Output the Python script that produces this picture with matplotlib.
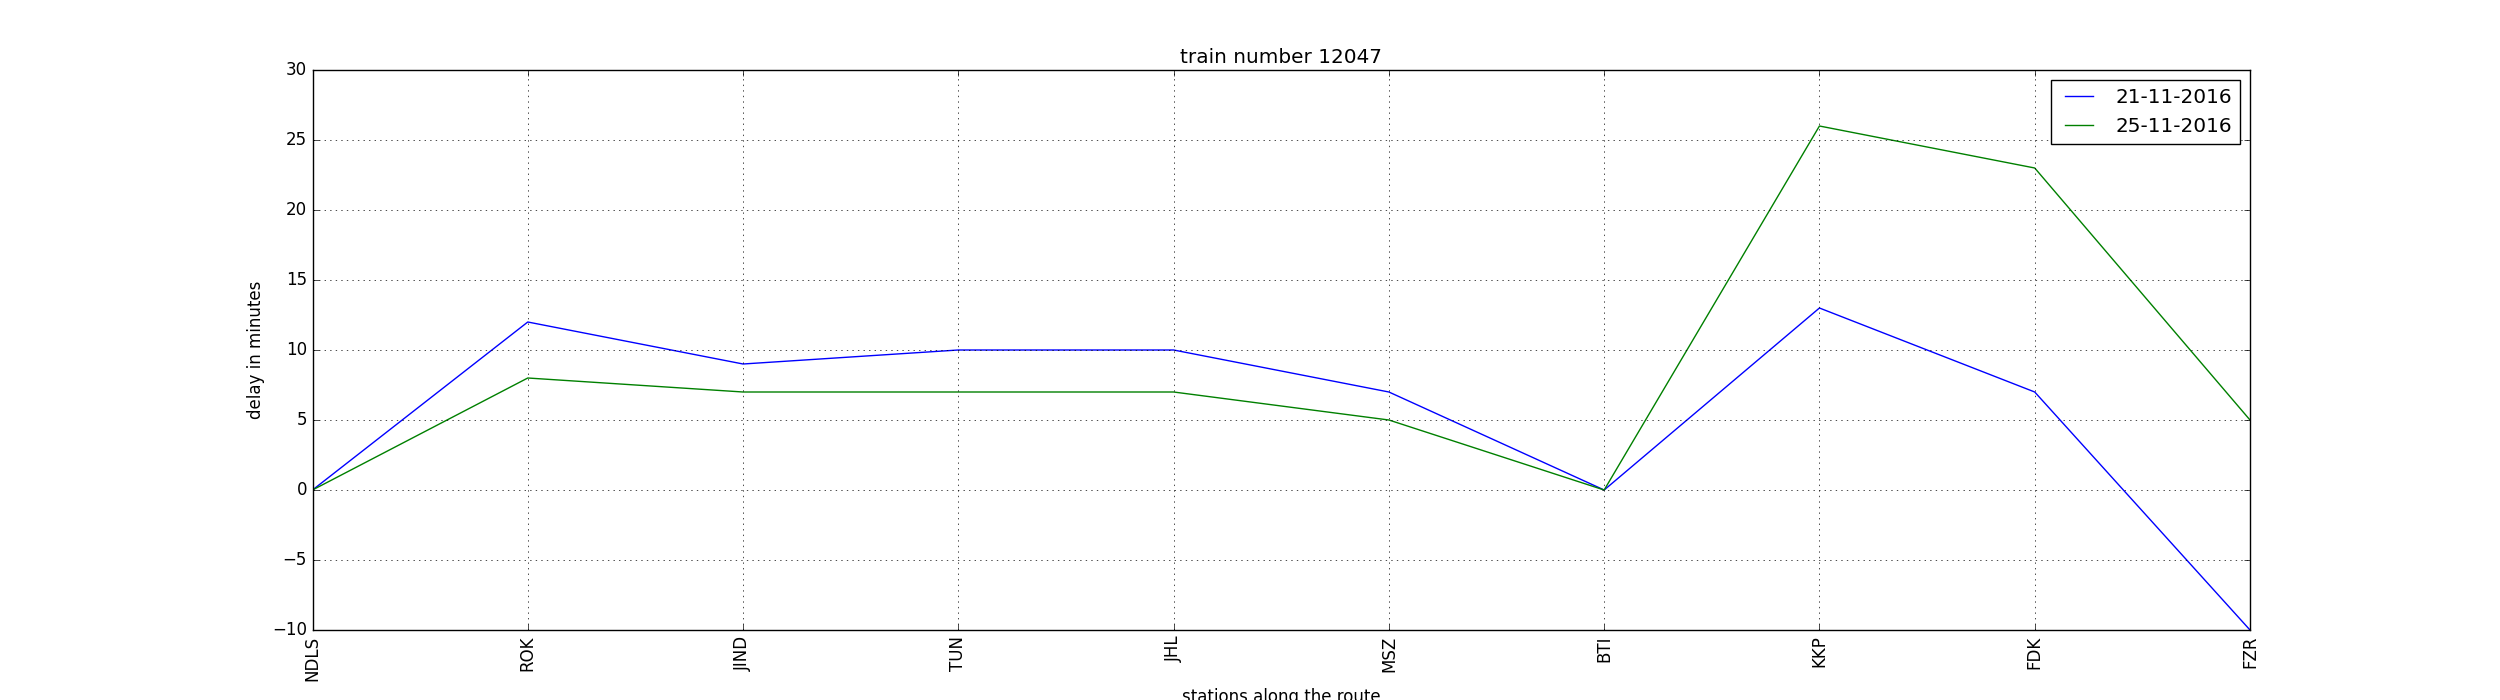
import matplotlib
matplotlib.use("Agg")
import matplotlib.pyplot as plt

plt.style.use('classic')

stations = ["NDLS", "ROK", "JIND", "TUN", "JHL", "MSZ", "BTI", "KKP", "FDK", "FZR"]
delay_21 = [0, 12, 9, 10, 10, 7, 0, 13, 7, -10]
delay_25 = [0, 8, 7, 7, 7, 5, 0, 26, 23, 5]
labels = ["21-11-2016", "25-11-2016"]

fig = plt.figure(figsize=(25, 7), dpi=100)
fig.patch.set_facecolor('white')
ax = fig.add_subplot(111)
x = list(range(len(stations)))
ax.plot(x, delay_21, color='b', label=labels[0])
ax.plot(x, delay_25, color='g', label=labels[1])
ax.set_xticks(x)
ax.set_xticklabels(stations, rotation=90)
ax.set_xlim(0, len(stations) - 1)
ax.set_ylim(-10, 30)
ax.grid(True)
ax.set_title("train number 12047")
ax.set_ylabel("delay in minutes")
ax.set_xlabel("stations along the route")
ax.legend(loc='upper right')
fig.savefig("out.png", dpi=100, facecolor='white')
